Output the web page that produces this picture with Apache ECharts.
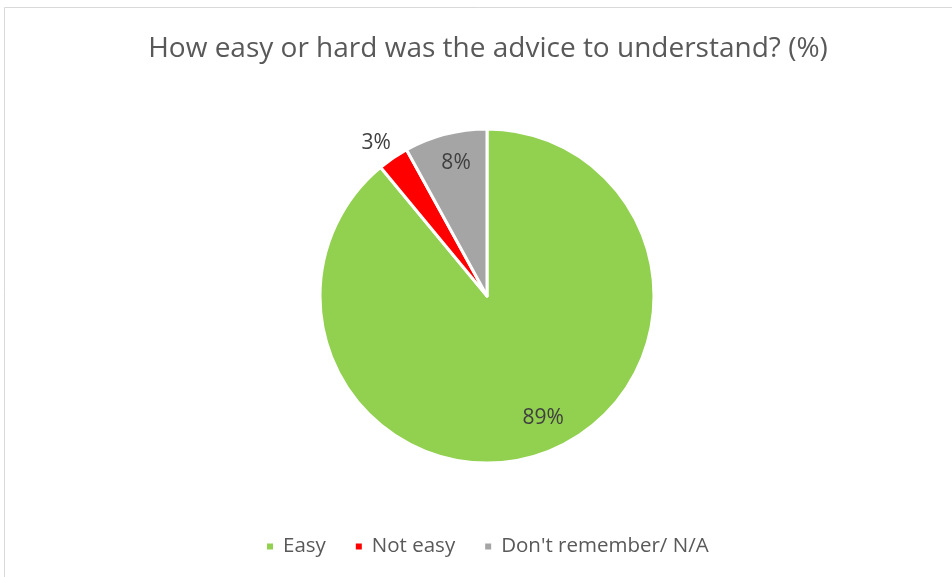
<!DOCTYPE html>
<html>
<head>
<meta charset="utf-8">
<script src="https://cdn.jsdelivr.net/npm/echarts@6/dist/echarts.min.js"></script>
<style>
  html, body { margin: 0; padding: 0; background: #fff; }
  #chart { width: 952px; height: 577px; }
</style>
</head>
<body>
<div id="chart"></div>
<script>
// Survey answers, percent of respondents
const categories = ['Easy', 'Not easy', "Don't remember/ N/A"];
const values = [89, 3, 8];
const colors = ['#92D050', '#FF0000', '#A5A5A5'];
// which answers get their label outside the pie
const outsideLabel = [false, true, false];
// small nudges so the value labels sit clear of the slice edges
const labelNudge = [[10, -6], [-2, 7], [3, -1]];

const chart = echarts.init(document.getElementById('chart'));

const center = [487, 296];
const R = 167;
const FONT = '"Open Sans", Lato, sans-serif';

const pieData = categories.map((name, i) => ({
  name, value: values[i], itemStyle: { color: colors[i] }
}));

// Transparent copies of the pie used only to place value labels at a chosen radius
function labelRing(radius, showFn) {
  return {
    type: 'pie',
    center, radius,
    startAngle: 90,
    clockwise: true,
    silent: true,
    legendHoverLink: false,
    animation: false,
    itemStyle: { color: 'transparent', borderWidth: 0 },
    labelLine: { show: false },
    emphasis: { disabled: true },
    data: categories.map((name, i) => ({
      name: name, value: values[i],
      itemStyle: { color: 'transparent' },
      label: {
        show: showFn(i), position: 'inside',
        formatter: values[i] + '%',
        offset: labelNudge[i],
        fontFamily: FONT, fontSize: 21, color: '#404040'
      }
    }))
  };
}

chart.setOption({
  backgroundColor: '#fff',
  animation: false,
  title: {
    text: 'How easy or hard was the advice to understand? (%)',
    left: 483, top: 30, textAlign: 'center',
    textStyle: { fontFamily: FONT, fontSize: 28, fontWeight: 'normal', color: '#595959' }
  },
  legend: {
    data: categories,
    top: 536, left: 265, padding: 0,
    icon: 'rect', itemWidth: 8, itemHeight: 8, itemGap: 28,
    selectedMode: false,
    textStyle: { fontFamily: FONT, fontSize: 20.5, color: '#595959', padding: [0, 0, 0, 4] }
  },
  graphic: [{
    type: 'rect',
    shape: { x: 4.5, y: 7.5, width: 1000, height: 700 },
    style: { fill: 'none', stroke: '#D9D9D9', lineWidth: 1 },
    silent: true, z: -10
  }],
  series: [
    {
      type: 'pie',
      center, radius: [0, R],
      startAngle: 90,
      clockwise: true,
      animation: false,
      itemStyle: { borderColor: '#fff', borderWidth: 3 },
      label: { show: false },
      labelLine: { show: false },
      emphasis: { disabled: true },
      data: pieData
    },
    labelRing([100, R], i => !outsideLabel[i]),
    labelRing([R, 214], i => outsideLabel[i])
  ]
});
</script>
</body>
</html>
